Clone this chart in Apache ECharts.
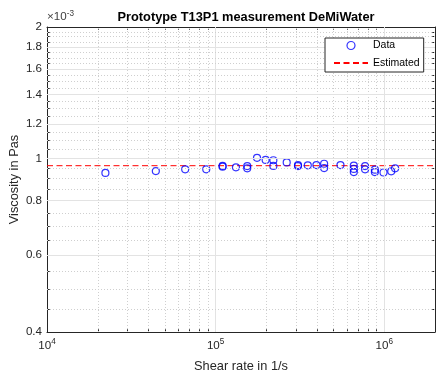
<!DOCTYPE html>
<html><head><meta charset="utf-8">
<script src="https://cdn.jsdelivr.net/npm/echarts@6/dist/echarts.min.js"></script>
<style>html,body{margin:0;padding:0;background:#fff}#c{width:436px;height:376px}</style>
</head><body><div id="c"></div>
<script>
// Data (viscosity in units of 1e-3 Pa·s)
const shearRate = [2.22e4, 4.42e4, 6.6e4, 8.8e4, 1.1e5, 1.1e5, 1.32e5, 1.54e5, 1.54e5, 1.76e5,
  1.98e5, 2.2e5, 2.2e5, 2.64e5, 3.08e5, 3.08e5, 3.52e5, 3.96e5, 4.4e5, 4.4e5,
  5.5e5, 6.6e5, 6.6e5, 6.6e5, 7.7e5, 7.7e5, 8.8e5, 8.8e5, 9.9e5, 1.1e6, 1.16e6];
const viscosity = [0.926, 0.935, 0.944, 0.944, 0.961, 0.957, 0.954, 0.960, 0.949, 1.003,
  0.992, 0.990, 0.961, 0.979, 0.965, 0.960, 0.964, 0.965, 0.972, 0.950,
  0.965, 0.962, 0.946, 0.930, 0.960, 0.944, 0.942, 0.930, 0.928, 0.934, 0.949];
const estimatedViscosity = 0.962;
const estimatedX = [1e4, 2e6];
const xRange = [1e4, 2e6];
const yRange = [0.4, 2];
const xMajorTicks = [1e4, 1e5, 1e6];
const xMinorTicks = [2e4, 3e4, 4e4, 5e4, 6e4, 7e4, 8e4, 9e4, 2e5, 3e5, 4e5, 5e5, 6e5, 7e5, 8e5, 9e5, 2e6];
const yMajorTicks = [0.4, 0.6, 0.8, 1, 1.2, 1.4, 1.6, 1.8, 2];
const yMinorTicks = [0.45, 0.5, 0.55, 0.65, 0.7, 0.75, 0.85, 0.9, 0.95, 1.05, 1.1, 1.15,
  1.25, 1.3, 1.35, 1.45, 1.5, 1.55, 1.65, 1.7, 1.75, 1.85, 1.9, 1.95];

const FONT = 'Liberation Sans, Arial, Helvetica, sans-serif';
const AX = '#262626';
const chart = echarts.init(document.getElementById('c'), null, {renderer: 'canvas'});

function xAxisDef(pos, ticks, len, showLine, showLabel) {
  return {
    type: 'log', logBase: 10, min: xRange[0], max: xRange[1], position: pos,
    axisLine: {show: showLine, onZero: false, lineStyle: {color: AX, width: 1}},
    axisTick: {show: true, inside: true, length: len, customValues: ticks, lineStyle: {color: AX, width: 1}},
    axisLabel: showLabel ? {
      show: true, customValues: ticks, margin: 6, color: AX, fontFamily: FONT,
      formatter: v => '{b|10}{s|' + Math.round(Math.log10(v)) + '}',
      rich: {b: {fontSize: 11.6, fontFamily: FONT, color: AX, lineHeight: 16},
             s: {fontSize: 8.2, fontFamily: FONT, color: AX, verticalAlign: 'top', lineHeight: 10}}
    } : {show: false},
    splitLine: {show: false}, minorTick: {show: false}, minorSplitLine: {show: false}
  };
}
function yAxisDef(pos, ticks, len, showLine, showLabel) {
  return {
    type: 'log', logBase: 10, min: yRange[0], max: yRange[1], position: pos,
    axisLine: {show: showLine, onZero: false, lineStyle: {color: AX, width: 1}},
    axisTick: {show: true, inside: true, length: len, customValues: ticks, lineStyle: {color: AX, width: 1}},
    axisLabel: showLabel ? {
      show: true, customValues: ticks, margin: 5, color: AX, fontFamily: FONT, fontSize: 11.6,
      formatter: v => String(Math.round(v * 100) / 100)
    } : {show: false},
    splitLine: {show: false}, minorTick: {show: false}, minorSplitLine: {show: false}
  };
}

const xAxes = [xAxisDef('bottom', xMajorTicks, 5, true, true), xAxisDef('bottom', xMinorTicks, 2.7, false, false),
  xAxisDef('top', xMajorTicks, 5, true, false), xAxisDef('top', xMinorTicks, 2.7, false, false)];
xAxes[0].name = 'Shear rate in 1/s';
xAxes[0].nameLocation = 'middle';
xAxes[0].nameGap = 28;
xAxes[0].nameMoveOverlap = false;
xAxes[0].nameTextStyle = {fontSize: 12.8, fontFamily: FONT, color: AX};
const yAxes = [yAxisDef('left', yMajorTicks, 5, true, true), yAxisDef('left', yMinorTicks, 2.7, false, false),
  yAxisDef('right', yMajorTicks, 5, true, false), yAxisDef('right', yMinorTicks, 2.7, false, false)];
yAxes[0].name = 'Viscosity in Pas';
yAxes[0].nameLocation = 'middle';
yAxes[0].nameGap = 26;
yAxes[0].nameMoveOverlap = false;
yAxes[0].nameTextStyle = {fontSize: 12.8, fontFamily: FONT, color: AX};

const majorGrid = {color: '#e3e3e3', width: 1, type: 'solid'};
const minorGrid = {color: '#cfcfcf', width: 1, type: [1, 2]};
const gridLines = [];
xMajorTicks.slice(1).forEach(v => gridLines.push({xAxis: v, lineStyle: majorGrid}));
xMinorTicks.slice(0, -1).forEach(v => gridLines.push({xAxis: v, lineStyle: minorGrid}));
yMajorTicks.slice(1, -1).forEach(v => gridLines.push({yAxis: v, lineStyle: majorGrid}));
yMinorTicks.forEach(v => gridLines.push({yAxis: v, lineStyle: minorGrid}));

chart.setOption({
  animation: false,
  backgroundColor: '#fff',
  title: {text: 'Prototype T13P1 measurement DeMiWater', left: 241, textAlign: 'center', top: 6,
    textStyle: {fontSize: 12.8, fontWeight: 'bold', fontFamily: FONT, color: '#000'}},
  grid: {left: 47, top: 27, right: 1, bottom: 44, containLabel: false, outerBoundsMode: 'none'},
  graphic: [{type: 'text', left: 47, top: 10, silent: true,
    style: {text: '{a|×10}{b|-3}', fontFamily: FONT, fill: '#404040',
      rich: {a: {fontSize: 11.6, fontFamily: FONT, fill: '#404040', lineHeight: 14},
             b: {fontSize: 8.2, fontFamily: FONT, fill: '#404040', verticalAlign: 'top', lineHeight: 10}}}}],
  legend: {
    z: 20,
    orient: 'vertical', left: 325, top: 38, padding: [1, 4, 2.5, 8], itemGap: 4.5,
    itemWidth: 34, itemHeight: 8, borderColor: AX, borderWidth: 1, backgroundColor: '#fff',
    textStyle: {fontSize: 10.5, fontFamily: FONT, color: '#000', lineHeight: 13},
    data: [{name: 'Data', itemStyle: {borderWidth: 1.2}}, {name: 'Estimated', itemStyle: {opacity: 0}}]
  },
  xAxis: xAxes,
  yAxis: yAxes,
  series: [
    {type: 'line', name: 'grid', data: [], silent: true, z: 1,
     markLine: {silent: true, symbol: 'none', label: {show: false}, data: gridLines, animation: false}},
    {type: 'scatter', name: 'Data', z: 4, symbol: 'circle', symbolSize: 7,
     itemStyle: {color: 'rgba(0,0,0,0)', borderColor: '#0000ff', borderWidth: 1.2},
     data: shearRate.map((x, i) => [x, viscosity[i]])},
    {type: 'line', name: 'Estimated', z: 3, symbol: 'none',
     lineStyle: {color: '#ff0000', width: 1, type: [6, 3.5]}, itemStyle: {color: '#ff0000'},
     data: estimatedX.map(x => [x, estimatedViscosity])}
  ]
});
</script></body></html>
